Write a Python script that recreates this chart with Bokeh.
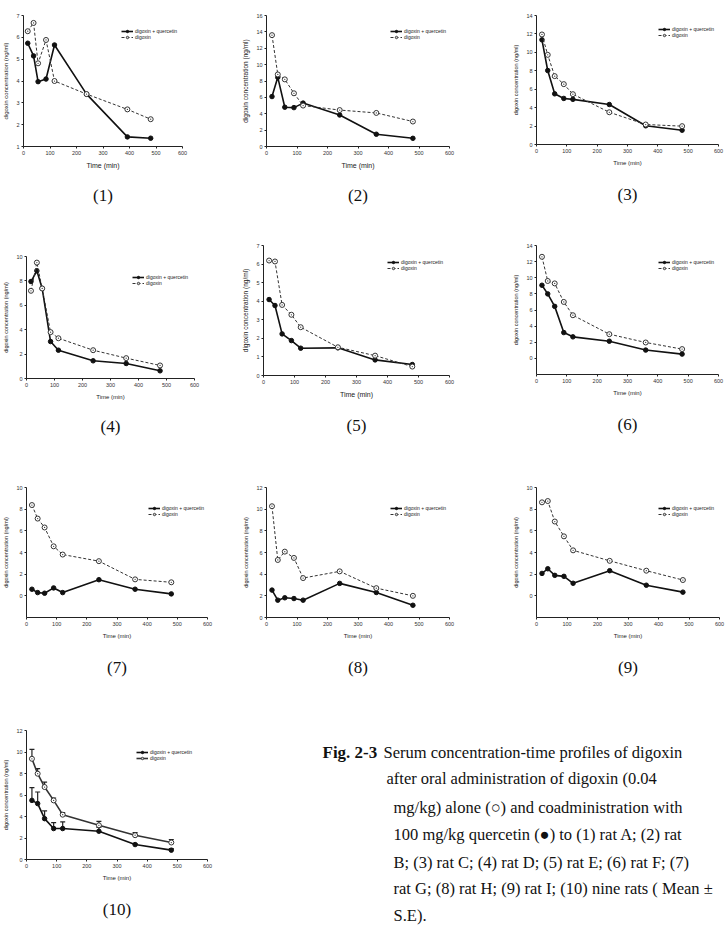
from bokeh.plotting import figure
from bokeh.layouts import row, column
from bokeh.models import (Range1d, FixedTicker, Legend, LegendItem, Title,
                          Whisker, ColumnDataSource, TeeHead)
from bokeh.embed import file_html
from bokeh.resources import INLINE
from bokeh.core.properties import value

# sampling times (min)
TIME = [18, 37, 60, 90, 120, 240, 360, 480]
TIME_A = [16, 38, 55, 85, 117, 238, 392, 480]
TIME_D = [16, 37, 56, 86, 114, 238, 356, 477]

# serum digoxin (ng/ml): coadministered with quercetin / digoxin alone
A_combo = [5.73, 5.15, 3.97, 4.09, 5.65, 3.40, 1.44, 1.38]
A_alone = [6.28, 6.66, 4.81, 5.88, 4.00, 3.40, 2.70, 2.25]
B_combo = [6.1, 8.45, 4.8, 4.75, 5.3, 3.85, 1.5, 1.0]
B_alone = [13.6, 8.8, 8.2, 6.5, 5.0, 4.45, 4.1, 3.05]
C_combo = [11.36, 8.03, 5.5, 5.0, 4.9, 4.34, 2.03, 1.55]
C_alone = [11.94, 9.73, 7.42, 6.55, 5.46, 3.5, 2.17, 1.99]
D_combo = [7.95, 8.83, 7.38, 3.03, 2.32, 1.45, 1.23, 0.63]
D_alone = [7.19, 9.5, 7.38, 3.8, 3.3, 2.32, 1.67, 1.07]
E_combo = [4.09, 3.77, 2.24, 1.88, 1.47, 1.49, 0.84, 0.59]
E_alone = [6.19, 6.14, 3.8, 3.27, 2.6, 1.52, 1.07, 0.48]
F_combo = [9.07, 8.0, 6.45, 3.2, 2.67, 2.13, 1.03, 0.53]
F_alone = [12.6, 9.6, 9.3, 7.0, 5.35, 3.0, 1.97, 1.15]
G_combo = [0.61, 0.3, 0.24, 0.73, 0.3, 1.49, 0.61, 0.18]
G_alone = [8.38, 7.13, 6.31, 4.57, 3.81, 3.2, 1.52, 1.25]
H_combo = [2.53, 1.6, 1.82, 1.75, 1.6, 3.15, 2.31, 1.13]
H_alone = [10.27, 5.31, 6.08, 5.5, 3.64, 4.26, 2.71, 2.0]
I_combo = [2.07, 2.5, 1.89, 1.8, 1.16, 2.32, 0.98, 0.34]
I_alone = [8.63, 8.75, 6.86, 5.49, 4.2, 3.23, 2.32, 1.46]

# nine rats, mean and standard error
MEAN_combo = [5.5, 5.2, 3.8, 2.88, 2.88, 2.63, 1.39, 0.87]
SE_combo = [1.18, 1.08, 0.72, 0.55, 0.62, 0.35, 0.1, 0.15]
MEAN_alone = [9.37, 7.98, 6.74, 5.5, 4.17, 3.18, 2.26, 1.58]
SE_alone = [0.87, 0.47, 0.46, 0.22, 0.19, 0.37, 0.24, 0.28]

X_TICKS = [0, 100, 200, 300, 400, 500, 600]
LEGEND_LABELS = ["digoxin + quercetin", "digoxin"]

SANS = "Liberation Sans"
SERIF = "Liberation Serif"


def make_panel(w, h, left, right, top, bottom, ymin, ymax, ystep, caption,
               t1, combo, t2, alone, xlab_size="6px", ylab_size="5.5px",
               legend_pos=(100, 100), cap_gap=24, dashed=True, se=None):
    p = figure(width=w, height=h, x_range=Range1d(0, 600),
               y_range=Range1d(ymin, ymax), output_backend="svg",
               toolbar_location=None, min_border_left=left,
               min_border_right=right, min_border_top=top,
               min_border_bottom=bottom)
    p.outline_line_color = None
    p.grid.visible = False
    p.background_fill_color = "white"
    for ax in (p.xaxis[0], p.yaxis[0]):
        ax.axis_line_color = "#222222"
        ax.axis_line_width = 1
        ax.major_tick_line_color = "#222222"
        ax.major_tick_out = 2
        ax.major_tick_in = 0
        ax.minor_tick_line_color = None
        ax.major_label_text_font = SANS
        ax.major_label_text_font_size = "5.5px"
        ax.major_label_text_color = "#333333"
        ax.axis_label_text_font = SANS
        ax.axis_label_text_font_style = "normal"
        ax.axis_label_text_color = "#222222"
        ax.major_label_standoff = 2
        ax.axis_label_standoff = 4
    p.xaxis.ticker = FixedTicker(ticks=X_TICKS)
    p.yaxis.ticker = FixedTicker(ticks=list(range(max(ymin, 0), ymax + 1, ystep)))
    p.xaxis.axis_label = "Time (min)"
    p.xaxis.axis_label_text_font_size = xlab_size
    p.yaxis.axis_label = "digoxin concentration (ng/ml)"
    p.yaxis.axis_label_text_font_size = ylab_size

    if se is not None:
        se_c, se_a = se
        for t, m, s in ((t1, combo, se_c), (t2, alone, se_a)):
            src = ColumnDataSource(dict(t=t, y=m, up=[a + b for a, b in zip(m, s)]))
            p.add_layout(Whisker(base="t", lower="y", upper="up", source=src,
                                 line_color="#222222", line_width=1.2,
                                 upper_head=TeeHead(size=5, line_color="#222222", line_width=1.2),
                                 lower_head=None))

    l1 = p.line(t1, combo, line_color="#111111", line_width=1.6)
    m1 = p.scatter(t1, combo, marker="circle", size=4.5, fill_color="#111111",
                   line_color="#111111")
    dash = "3 2" if dashed else "solid"
    lw2 = 1.0 if dashed else 1.6
    l2 = p.line(t2, alone, line_color="#333333", line_width=lw2, line_dash=dash)
    m2 = p.scatter(t2, alone, marker="circle_dot", size=5, fill_color="white",
                   line_color="#333333", line_width=1)

    legend = Legend(items=[LegendItem(label=LEGEND_LABELS[0], renderers=[l1, m1]),
                           LegendItem(label=LEGEND_LABELS[1], renderers=[l2, m2])],
                    location=legend_pos, background_fill_alpha=0,
                    border_line_alpha=0, padding=0, spacing=0, margin=0,
                    glyph_width=12, glyph_height=6, label_height=6,
                    label_standoff=2, label_text_font=SANS,
                    label_text_font_size="5px", label_text_color="#222222")
    p.add_layout(legend)

    p.add_layout(Title(text=caption, align="center", text_font=SERIF,
                       text_font_size="17px", text_font_style="normal",
                       text_color="#111111", standoff=cap_gap), "below")
    # wrapped so each panel keeps its own frame placement inside a row
    return column(p, spacing=0)


# row 1
p1 = make_panel(235, 232, 17, 53, 15, 86, 1, 7, 1, "(1)", TIME_A, A_combo,
                TIME_A, A_alone, xlab_size="7px", ylab_size="6px",
                legend_pos=(98, 106))
p2 = make_panel(255, 232, 31, 41, 15, 86, 0, 16, 2, "(2)", TIME, B_combo,
                TIME, B_alone, xlab_size="7px", ylab_size="6.5px",
                legend_pos=(124, 106))
p3 = make_panel(236, 232, 46, 8, 15, 88, 0, 14, 2, "(3)", TIME, C_combo,
                TIME, C_alone, legend_pos=(122, 106), cap_gap=28)
# row 2
p4 = make_panel(235, 238, 21, 41, 24, 92, 0, 10, 2, "(4)", TIME_D, D_combo,
                TIME_D, D_alone, legend_pos=(106, 92))
p5 = make_panel(255, 238, 28, 41, 13, 95, 0, 7, 1, "(5)", TIME, E_combo,
                TIME, E_alone, xlab_size="7px", ylab_size="6.5px",
                legend_pos=(124, 104), cap_gap=27)
p6 = make_panel(236, 238, 46, 8, 13, 96, -2, 14, 2, "(6)", TIME, F_combo,
                TIME, F_alone, legend_pos=(122, 103), cap_gap=29)
# row 3
p7 = make_panel(235, 245, 22, 28, 17, 98, -2, 10, 2, "(7)", TIME, G_combo,
                TIME, G_alone, legend_pos=(122, 100), cap_gap=29)
p8 = make_panel(255, 245, 31, 41, 17, 98, 0, 12, 2, "(8)", TIME, H_combo,
                TIME, H_alone, legend_pos=(124, 100), cap_gap=29)
p9 = make_panel(236, 245, 46, 7, 17, 98, -2, 10, 2, "(9)", TIME, I_combo,
                TIME, I_alone, legend_pos=(122, 100), cap_gap=29)
# row 4: pooled data with error bars
p10 = make_panel(240, 230, 23, 33, 15, 86, 0, 12, 2, "(10)", TIME, MEAN_combo,
                 TIME, MEAN_alone, legend_pos=(110, 98), cap_gap=28,
                 dashed=False, se=(SE_combo, SE_alone))

# figure legend text
CAPTION_LINES = [
    "after  oral  administration of digoxin (0.04",
    "mg/kg) alone (\u25cb) and coadministration with",
    "100 mg/kg quercetin (\u25cf) to (1) rat A; (2) rat",
    "B; (3) rat C; (4) rat D; (5) rat E; (6) rat F; (7)",
    "rat G; (8) rat H; (9) rat I; (10) nine rats ( Mean  \u00b1",
    "S.E).",
]
cap = figure(width=486, height=230, x_range=Range1d(0, 486),
             y_range=Range1d(230, 0), output_backend="svg",
             toolbar_location=None, min_border=0,
             x_axis_location=None, y_axis_location=None)
cap.grid.visible = False
cap.outline_line_color = None
cap.text(x=[82], y=[37], text=["Fig. 2-3"], text_font=value(SERIF),
         text_font_size="17px", text_font_style="bold",
         text_baseline="alphabetic", text_color="#111111")
cap.text(x=[143], y=[37], text=["Serum concentration-time profiles of digoxin"],
         text_font=value(SERIF), text_font_size="16.5px",
         text_baseline="alphabetic", text_color="#111111")
cap.text(x=[146] + [153] * 5, y=[63, 92, 119, 147, 173, 200], text=CAPTION_LINES,
         text_font=value(SERIF), text_font_size="16.5px",
         text_baseline="alphabetic", text_color="#111111")

layout = column(row(p1, p2, p3, spacing=0), row(p4, p5, p6, spacing=0),
                row(p7, p8, p9, spacing=0), row(p10, column(cap, spacing=0), spacing=0),
                spacing=0)

open("out.html", "w").write(file_html(layout, INLINE))
